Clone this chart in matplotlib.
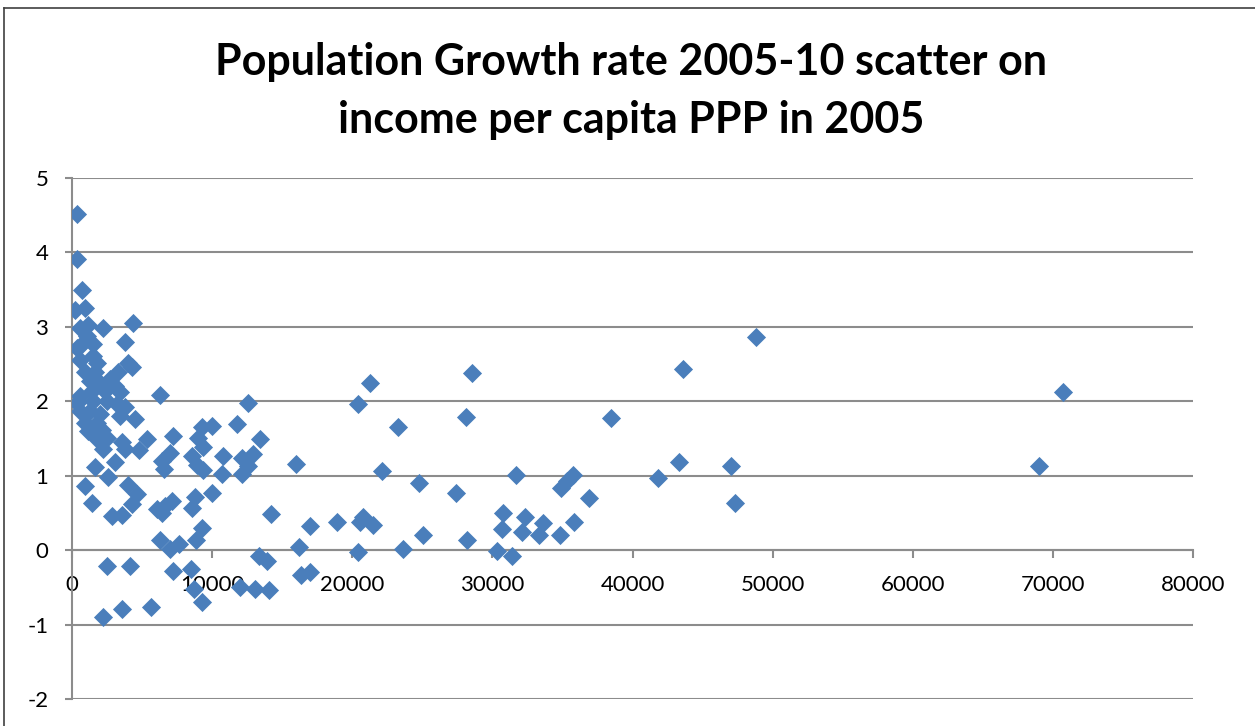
import matplotlib.pyplot as plt
from matplotlib.lines import Line2D

# -------------------------------
# Data
# -------------------------------
income = [
    330, 330, 680, 210, 910, 4380, 570, 1140, 2230, 1050,
    3780, 680, 330, 1520, 570, 1520, 1760, 4020, 4260, 930,
    1640, 3300, 2710, 1280, 2000, 3070, 570, 1400, 2360, 3430,
    6280, 330, 1520, 2480, 3190, 3780, 570, 1280, 2000, 4500,
    3430, 930, 1760, 1140, 2120, 1760, 2480, 2230, 3550, 3780,
    4750, 5330, 3070, 1640, 2590, 930, 1400, 4020, 4620, 4260,
    2830, 3550, 2480, 4170, 2230, 3550, 5620,
    6040, 6640, 7110, 6400, 8540, 8800, 9970, 6280, 6990, 7650,
    8850, 9260, 7230, 8500, 8700, 9260, 6400, 6600, 6990, 7230,
    9010, 9260, 9970, 11750, 12580, 13420, 8540, 9370, 10800, 12110,
    12940, 12580, 8900, 9370, 10680, 12110, 11990, 13060, 14080, 14220,
    15960, 13350, 13890, 16180, 16370, 16990, 16990, 18890, 20550, 20790,
    21460, 20390, 20430, 21240, 22150, 23240, 23600, 24770, 25030, 27380,
    28100, 28570, 28170,
    30350, 30690, 30760, 31400, 31710, 32100, 32330, 33350, 33640, 34830,
    34900, 35300, 35730, 35830, 36920, 38490, 41850, 43350, 43580, 47030,
    47340, 48800, 69030, 70750,
]
growth = [
    4.51, 3.91, 3.50, 3.23, 3.26, 3.05, 2.99, 3.03, 2.99, 2.88,
    2.79, 2.77, 2.72, 2.77, 2.56, 2.61, 2.52, 2.52, 2.46, 2.39,
    2.39, 2.39, 2.30, 2.27, 2.25, 2.21, 2.07, 2.14, 2.14, 2.12,
    2.08, 1.98, 2.00, 2.00, 1.96, 1.92, 1.87, 1.87, 1.83, 1.76,
    1.80, 1.71, 1.71, 1.60, 1.62, 1.49, 1.51, 1.36, 1.45, 1.36,
    1.35, 1.49, 1.18, 1.12, 0.98, 0.86, 0.63, 0.88, 0.75, 0.62,
    0.46, 0.47, -0.21, -0.21, -0.90, -0.79, -0.76,
    0.55, 0.59, 0.66, 0.50, 0.57, 0.72, 0.77, 0.14, 0.02, 0.08,
    0.13, 0.30, -0.28, -0.26, -0.52, -0.70, 1.20, 1.09, 1.31, 1.53,
    1.51, 1.66, 1.67, 1.69, 1.98, 1.49, 1.27, 1.38, 1.27, 1.24,
    1.29, 1.13, 1.15, 1.08, 1.02, 1.02, -0.50, -0.52, -0.53, 0.49,
    1.16, -0.08, -0.15, 0.04, -0.34, -0.29, 0.32, 0.38, 0.38, 0.45,
    0.34, -0.02, 1.97, 2.24, 1.06, 1.66, 0.01, 0.90, 0.21, 0.77,
    1.79, 2.38, 0.13,
    -0.01, 0.28, 0.50, -0.08, 1.01, 0.25, 0.45, 0.21, 0.37, 0.21,
    0.84, 0.93, 1.01, 0.38, 0.70, 1.77, 0.97, 1.19, 2.44, 1.13,
    0.63, 2.86, 1.13, 2.12,
]

title = "Population Growth rate 2005-10 scatter on\nincome per capita PPP in 2005"
x_ticks = [0, 10000, 20000, 30000, 40000, 50000, 60000, 70000, 80000]
y_ticks = [-2, -1, 0, 1, 2, 3, 4, 5]

# -------------------------------
# Plot
# -------------------------------
plt.rcParams["font.family"] = ["Lato", "DejaVu Sans"]
grid_col = "#8c8c8c"

fig = plt.figure(figsize=(12.55, 7.26), dpi=100)
ax = fig.add_axes([72 / 1255, 1 - 699 / 726, (1193 - 72) / 1255, (699 - 178) / 726])

ax.scatter(income, growth, marker="D", s=95, color="#4a7ebb", linewidths=0, zorder=3)

ax.set_xlim(0, 80000)
ax.set_ylim(-2, 5)
ax.set_xticks(x_ticks)
ax.set_yticks(y_ticks)
ax.set_xticklabels([str(t) for t in x_ticks])
ax.set_yticklabels([str(t) for t in y_ticks])

ax.yaxis.grid(True, color=grid_col, linewidth=1.5)
ax.set_axisbelow(True)

ax.spines["top"].set_visible(False)
ax.spines["right"].set_visible(False)
ax.spines["bottom"].set_position(("data", 0))
ax.spines["bottom"].set_color(grid_col)
ax.spines["bottom"].set_linewidth(1.5)
ax.spines["left"].set_color(grid_col)
ax.spines["left"].set_linewidth(1.5)

ax.tick_params(axis="x", direction="out", length=6, width=1.5, color=grid_col,
               labelsize=16, pad=12)
ax.tick_params(axis="y", direction="out", length=5, width=1.5, color=grid_col,
               labelsize=16, pad=12)

fig.text(0.503, 1 - 91 / 726, title, ha="center", va="center",
         fontsize=31, fontweight="bold", linespacing=1.55)

# chart frame (left and top edges visible in the crop)
fig.add_artist(Line2D([4 / 1255, 4 / 1255], [0, 1 - 8 / 726], color="#404040", linewidth=1.2))
fig.add_artist(Line2D([4 / 1255, 1], [1 - 8 / 726, 1 - 8 / 726], color="#404040", linewidth=1.2))

plt.savefig("out.png", dpi=100)
plt.close()
